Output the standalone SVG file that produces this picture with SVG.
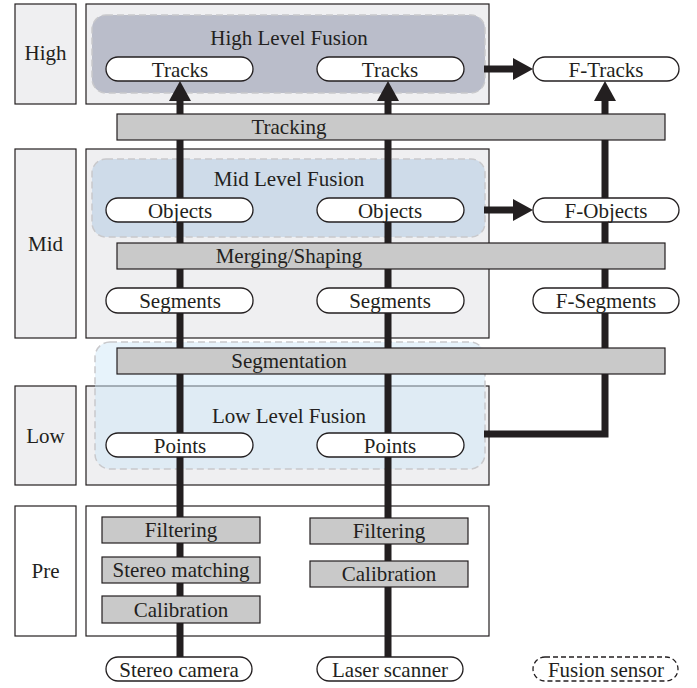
<svg xmlns="http://www.w3.org/2000/svg" width="697" height="688" viewBox="0 0 697 688">
<style>
text{font-family:"Liberation Serif","Times New Roman",serif;font-size:21px;fill:#231f20;text-anchor:middle}
.lbl{fill:#efeff1;stroke:#231f20;stroke-width:1.2}
.lblw{fill:#ffffff;stroke:#231f20;stroke-width:1.2}
.pan{fill:#efeff1;stroke:#231f20;stroke-width:1.2}
.panw{fill:#ffffff;stroke:#231f20;stroke-width:1.2}
.fus{stroke:#c9c9cc;stroke-width:1.5;stroke-dasharray:7 4}
.bar{fill:#c9c9c9;stroke:#231f20;stroke-width:1.2}
.pill{fill:#ffffff;stroke:#231f20;stroke-width:1.3}
.pilld{fill:#ffffff;stroke:#231f20;stroke-width:1.3;stroke-dasharray:5 3}
.flow{fill:none;stroke:#231f20;stroke-width:7;stroke-linejoin:miter}
</style>
<defs>
<marker id="ah" viewBox="0 0 20 22" refX="0" refY="11" markerWidth="20" markerHeight="22" orient="auto" markerUnits="userSpaceOnUse">
<path d="M0,0 L20,11 L0,22 z" fill="#231f20"/>
</marker>
</defs>

<g id="levels">
<g id="lvl-high"><rect class="lbl" x="15" y="4" width="61" height="100"/><text x="45.5" y="60">High</text></g>
<g id="lvl-mid"><rect class="lbl" x="15" y="149" width="61" height="189"/><text x="45.5" y="251">Mid</text></g>
<g id="lvl-low"><rect class="lbl" x="15" y="386" width="61" height="99"/><text x="45.5" y="443">Low</text></g>
<g id="lvl-pre"><rect class="lblw" x="15" y="506" width="61" height="130"/><text x="45.5" y="578">Pre</text></g>
</g>

<g id="panels">
<rect id="panel-high" class="pan" x="86" y="4" width="403" height="100"/>
<rect id="panel-mid" class="pan" x="86" y="149" width="403" height="189"/>
<rect id="panel-low" class="pan" x="86" y="386" width="403" height="99"/>
<rect id="panel-pre" class="panw" x="86" y="506" width="403" height="130"/>
</g>

<g id="fusion-regions">
<g id="high-fusion"><rect class="fus" x="92" y="15" width="393" height="78" rx="14" fill="#babdca"/><text x="289" y="45">High Level Fusion</text></g>
<g id="mid-fusion"><rect class="fus" x="92" y="159" width="393" height="78" rx="14" fill="#cedbe9"/><text x="289" y="186">Mid Level Fusion</text></g>
<g id="low-fusion"><rect class="fus" x="95" y="342" width="390" height="127" rx="15" fill="#cfe8f8" fill-opacity="0.5"/><text x="289" y="423">Low Level Fusion</text></g>
</g>

<g id="connectors">
<path class="flow" d="M180,657 V101" marker-end="url(#ah)"/>
<path class="flow" d="M388,657 V101" marker-end="url(#ah)"/>
<path class="flow" d="M484,434 H605 V101" marker-end="url(#ah)"/>
<path class="flow" d="M484,69 H513" marker-end="url(#ah)"/>
<path class="flow" d="M484,210 H513" marker-end="url(#ah)"/>
</g>

<g id="bars">
<g id="tracking"><rect class="bar" x="117" y="114" width="548" height="26"/><text x="289" y="134">Tracking</text></g>
<g id="merging"><rect class="bar" x="117" y="243" width="548" height="26"/><text x="289" y="263">Merging/Shaping</text></g>
<g id="segmentation"><rect class="bar" x="117" y="348" width="548" height="26"/><text x="289" y="368">Segmentation</text></g>
<g id="filtering-l"><rect class="bar" x="102" y="517" width="158" height="26"/><text x="181" y="537">Filtering</text></g>
<g id="stereo-matching"><rect class="bar" x="102" y="557" width="158" height="26"/><text x="181" y="577">Stereo matching</text></g>
<g id="calibration-l"><rect class="bar" x="102" y="596" width="158" height="27"/><text x="181" y="617">Calibration</text></g>
<g id="filtering-r"><rect class="bar" x="310" y="518" width="158" height="26"/><text x="389" y="538">Filtering</text></g>
<g id="calibration-r"><rect class="bar" x="310" y="561" width="158" height="26"/><text x="389" y="581">Calibration</text></g>
</g>

<g id="pills">
<g id="tracks-l"><rect class="pill" x="106" y="57" width="147" height="24" rx="12"/><text x="180" y="76.5">Tracks</text></g>
<g id="tracks-r"><rect class="pill" x="317" y="57" width="147" height="24" rx="12"/><text x="390" y="76.5">Tracks</text></g>
<g id="f-tracks"><rect class="pill" x="533" y="57" width="146" height="24" rx="12"/><text x="606" y="76.5">F-Tracks</text></g>
<g id="objects-l"><rect class="pill" x="106" y="198" width="147" height="24" rx="12"/><text x="180" y="217.5">Objects</text></g>
<g id="objects-r"><rect class="pill" x="317" y="198" width="147" height="24" rx="12"/><text x="390" y="217.5">Objects</text></g>
<g id="f-objects"><rect class="pill" x="533" y="198" width="146" height="24" rx="12"/><text x="606" y="217.5">F-Objects</text></g>
<g id="segments-l"><rect class="pill" x="106" y="288" width="147" height="25" rx="12"/><text x="180" y="307.5">Segments</text></g>
<g id="segments-r"><rect class="pill" x="317" y="288" width="147" height="25" rx="12"/><text x="390" y="307.5">Segments</text></g>
<g id="f-segments"><rect class="pill" x="533" y="288" width="146" height="25" rx="12"/><text x="606" y="307.5">F-Segments</text></g>
<g id="points-l"><rect class="pill" x="106" y="433" width="147" height="24" rx="12"/><text x="180" y="452.5">Points</text></g>
<g id="points-r"><rect class="pill" x="317" y="433" width="147" height="24" rx="12"/><text x="390" y="452.5">Points</text></g>
<g id="stereo-camera"><rect class="pill" x="106" y="657" width="146" height="24" rx="12"/><text x="179" y="676.5">Stereo camera</text></g>
<g id="laser-scanner"><rect class="pill" x="317" y="657" width="146" height="24" rx="12"/><text x="390" y="676.5">Laser scanner</text></g>
<g id="fusion-sensor"><rect class="pilld" x="533" y="657" width="145" height="24" rx="12"/><text x="606" y="676.5">Fusion sensor</text></g>
</g>
</svg>
